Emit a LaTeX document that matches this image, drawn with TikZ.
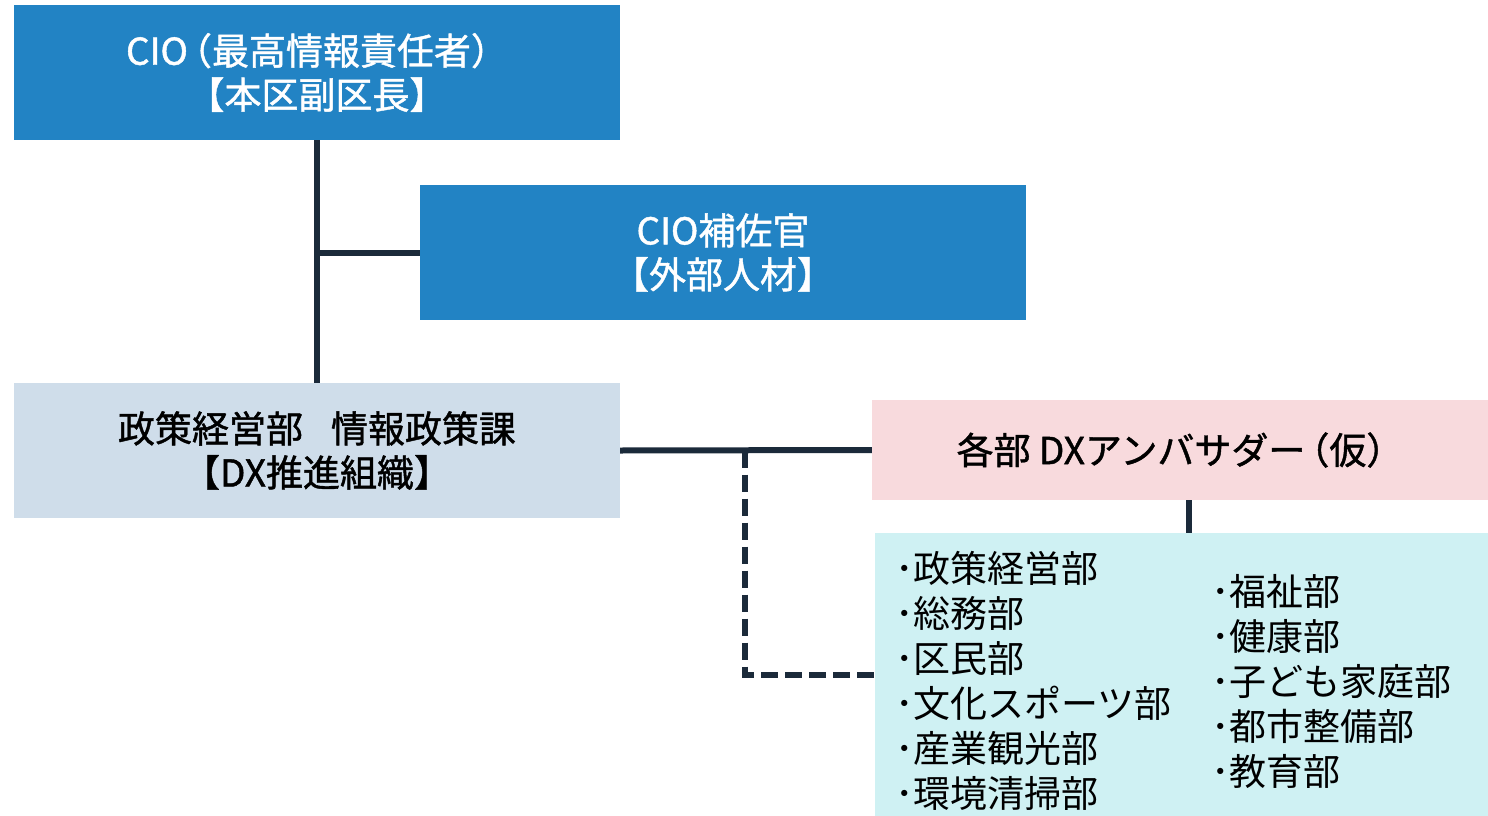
\documentclass[tikz,border=0pt]{standalone}
\usepackage{fontspec}
\setmainfont{Noto Sans CJK JP}
\newfontfamily\medfont{Noto Sans CJK JP}[FakeBold=1.2]
\definecolor{cioblue}{HTML}{2283C4}
\definecolor{dxgray}{HTML}{CFDDEA}
\definecolor{ambpink}{HTML}{F8DADD}
\definecolor{listcyan}{HTML}{CFF1F3}
\definecolor{linenavy}{HTML}{1B2A3A}
\newcommand{\lpar}{\kern-13pt（}
\tikzset{
  box/.style={rectangle, inner sep=0pt, align=center, font=\medfont\fontsize{37}{44}\selectfont},
  conn/.style={draw=linenavy, line width=6pt},
  dashconn/.style={draw=linenavy, line width=6pt, dash pattern=on 17pt off 7pt},
  listtext/.style={inner sep=0pt, anchor=west, align=left, font=\fontsize{37}{45}\selectfont}
}
\begin{document}
\begin{tikzpicture}[x=1pt,y=-1pt]
\useasboundingbox (0,0) rectangle (1488,816);
\node[box, fill=cioblue, text=white, minimum width=606pt, minimum height=135pt] (b1) at (317,72.5) {CIO\lpar 最高情報責任者）\\【本区副区長】};
\node[box, fill=cioblue, text=white, minimum width=606pt, minimum height=135pt] (b2) at (723,252.5) {CIO補佐官\\【外部人材】};
\node[box, fill=dxgray, text=black, minimum width=606pt, minimum height=135pt] (b3) at (317,450.5) {政策経営部\hspace{28pt}情報政策課\\【DX推進組織】};
\node[box, fill=ambpink, text=black, minimum width=616pt, minimum height=100pt] (b4) at (1180,450) {各部 DXアンバサダー\lpar 仮）};
\node[box, fill=listcyan, minimum width=613pt, minimum height=283pt] (b5) at (1181.5,674.5) {};
\node[listtext] (l1) at (895,681) {･政策経営部\\･総務部\\･区民部\\･文化スポーツ部\\･産業観光部\\･環境清掃部};
\node[listtext] (l2) at (1211,681) {･福祉部\\･健康部\\･子ども家庭部\\･都市整備部\\･教育部};
\coordinate (j) at (745,450.5);
\draw[conn] (b1.south) -- (b3.north);
\draw[conn] (b1.south |- b2.west) -- (b2.west);
\draw[conn] (b3.east) -- (b4.west);
\draw[dashconn] (j) |- (b5.west);
\draw[conn] ([xshift=9pt]b4.south) -- ([xshift=9pt]b4.south |- b5.north);
\end{tikzpicture}
\end{document}
